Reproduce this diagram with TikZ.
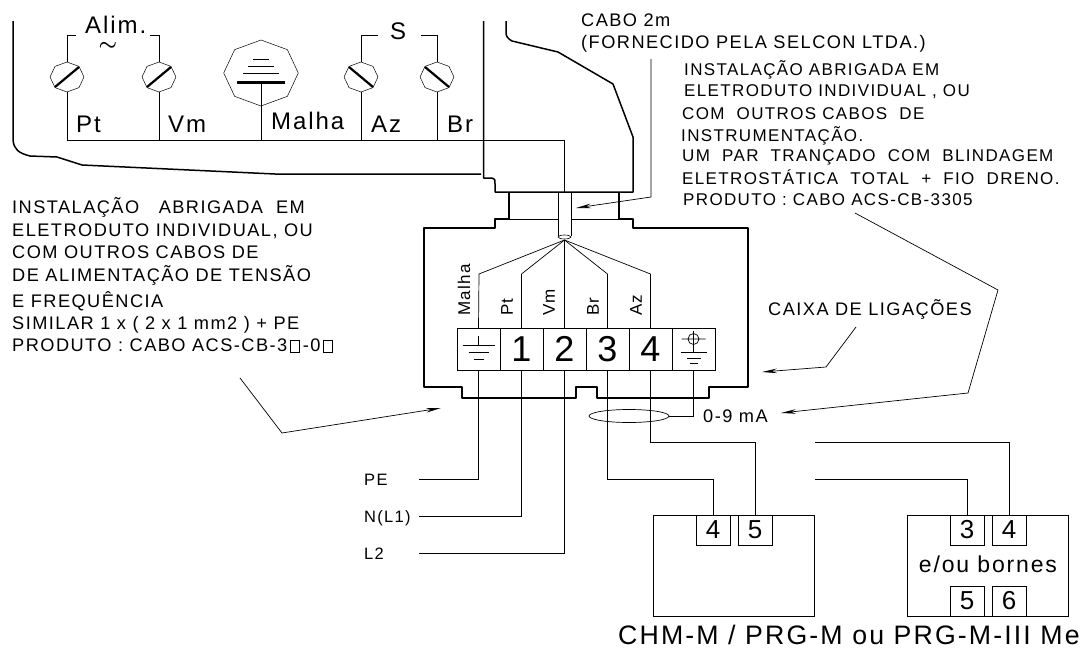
\documentclass[tikz,border=0pt]{standalone}
\usepackage{fontspec}
\setmainfont[LetterSpace=8]{Liberation Sans}
\usetikzlibrary{arrows.meta,shapes.geometric,positioning}
\newcommand{\missbox}{{\setlength{\fboxsep}{0pt}\setlength{\fboxrule}{.7pt}\fbox{\rule{0pt}{11pt}\hspace{8pt}}}}
\tikzset{
  body/.style={line width=1.5pt, line join=round},
  wire/.style={line width=.7pt},
  pointer/.style={line width=.7pt, -{Stealth[length=15pt,width=4.5pt]}},
  txt/.style={anchor=west, inner sep=0pt, text height=13pt, text depth=0pt, font=\fontsize{18.2}{18}\selectfont},
  rtxt/.style={anchor=west, inner sep=0pt, text height=12pt, text depth=0pt, font=\fontsize{17}{17}\selectfont},
  small/.style={anchor=west, inner sep=0pt, text height=12pt, text depth=0pt, font=\fontsize{16.5}{16.5}\selectfont},
  big/.style={anchor=west, inner sep=0pt, text height=17pt, text depth=0pt, font=\fontsize{24}{24}\selectfont},
  side/.style={rotate=90, anchor=west, inner sep=0pt, font=\fontsize{17}{17}\selectfont},
  screw/.style={draw, regular polygon, regular polygon sides=8, shape border rotate=22.5, inner sep=0pt, minimum size=30pt, xscale=1.13, line width=.5pt},
  slot/.style={line width=2.2pt},
  cell/.style={draw, minimum width=43pt, minimum height=42pt, inner sep=0pt, outer sep=0pt, line width=.6pt, font=\fontsize{36}{36}\selectfont},
  pin/.style={draw, minimum width=34pt, minimum height=30pt, inner sep=0pt, outer sep=0pt, line width=.8pt, font=\fontsize{26}{26}\selectfont},
  unit/.style={draw, minimum width=161pt, minimum height=101pt, inner sep=0pt, outer sep=0pt, line width=.8pt}
}
\begin{document}
\begin{tikzpicture}[x=1pt, y=-1pt, node distance=43pt]
  \useasboundingbox (0,0) rectangle (1082,648);

  \draw[body] (13,21) -- (13,140) .. controls (14,149) and (18,153) .. (30,156) -- (57,157) -- (82,165) -- (275,174) -- (481,174);
  \draw[body] (483.5,21) -- (483.5,178) -- (492,178) .. controls (495,179) .. (495,184) -- (495,192) -- (633,192) -- (633,137) -- (613,84) -- (558,52) -- (512,41) .. controls (508,39) and (506,36) .. (506,33) -- (506,21);
  \draw[body] (509,192) -- (509,219) -- (495,219) -- (495,228) -- (424,228) -- (424,387) -- (462,387) -- (462,398) -- (576,398) -- (576,387) -- (597,387) -- (597,398) -- (709,398) -- (709,387) -- (748,387) -- (748,228) -- (633,228) -- (633,219) -- (619,219) -- (619,192);
  \draw[wire] (509,219) -- (558,219) (571,219) -- (619,219);
  \draw[wire] (558,192) -- (558,236) (571,192) -- (571,236);
  \node[draw, ellipse, inner sep=0pt, minimum width=13pt, minimum height=4pt, line width=.6pt] (gland) at (564.5,237) {};
  \coordinate (fan) at (564.5,240);

  \node[screw] (sPt) at (67,77) {};
  \node[screw] (sVm) at (159,77) {};
  \node[screw] (sAz) at (361,77) {};
  \node[screw] (sBr) at (437,77) {};
  \node[screw, minimum size=66pt] (sMalha) at (261,73) {};
  \draw[slot] ([shift={(-12,10)}]sPt.center) -- ([shift={(12,-10)}]sPt.center);
  \draw[slot] ([shift={(-12,10)}]sVm.center) -- ([shift={(12,-10)}]sVm.center);
  \draw[slot] ([shift={(-12,-10)}]sAz.center) -- ([shift={(12,10)}]sAz.center);
  \draw[slot] ([shift={(-12,-10)}]sBr.center) -- ([shift={(12,10)}]sBr.center);
  \draw[wire] (253,59) -- (269,59) (248,66) -- (274,66) (243,73) -- (279,73);
  \draw[slot] (237,82.5) -- (285,82.5);

  \coordinate (alimL) at (76,35);
  \coordinate (alimR) at (150,35);
  \coordinate (sL) at (378,35);
  \coordinate (sR) at (421,35);
  \coordinate (bus) at (67,140);
  \draw[wire] (alimL) -| (sPt.north);
  \draw[wire] (alimR) -| (sVm.north);
  \draw[wire] (sL) -| (sAz.north);
  \draw[wire] (sR) -| (sBr.north);
  \draw[wire] (sPt.south) -- (bus);
  \draw[wire] (sVm.south) -- (159,140);
  \draw[wire] (261,82) -- (261,140);
  \draw[wire] (sAz.south) -- (361,140);
  \draw[wire] (sBr.south) -- (437,140);
  \draw[wire] (bus) -- (564.5,140) -- (564.5,192);

  \node[big] (alim) at (85,25) {Alim.};
  \node[anchor=center, inner sep=0pt, font=\boldmath\fontsize{22}{22}\selectfont] (tilde) at (108,46) {$\sim$};
  \node[big] (sig) at (390,31) {S};
  \node[big] (lPt) at (76,124) {Pt};
  \node[big] (lVm) at (168,124) {Vm};
  \node[big] (lMalha) at (271,121) {Malha};
  \node[big] (lAz) at (371,124) {Az};
  \node[big] (lBr) at (447,124) {Br};

  \node[cell] (t0) at (478.5,349) {};
  \node[cell] (t1) [right of = t0] {1};
  \node[cell] (t2) [right of = t1] {2};
  \node[cell] (t3) [right of = t2] {3};
  \node[cell] (t4) [right of = t3] {4};
  \node[cell] (t5) [right of = t4] {};

  \draw[wire] (t0.center) ++(0,-13) -- ++(0,9) ++(-16,0) -- ++(32,0) ++(-26,7) -- ++(20,0) ++(-15,7) -- ++(10,0);
  \draw[wire] (t5.center) ++(0,-18) -- ++(0,21) ++(-13,0) -- ++(26,0) ++(-20,6) -- ++(14,0) ++(-11,5) -- ++(8,0);
  \draw[wire] ([yshift=10pt]t5.center) circle (5.5pt) ++(-12,0) -- ++(24,0);

  \coordinate (kMalha) at (479,274);
  \coordinate (kPt) at (521.5,274);
  \coordinate (kBr) at (607.5,274);
  \coordinate (kAz) at (650.5,274);
  \draw[wire] (fan) -- (kMalha) -- (t0.north);
  \draw[wire] (fan) -- (kPt) -- (t1.north);
  \draw[wire] (fan) -- (t2.north);
  \draw[wire] (fan) -- (kBr) -- (t3.north);
  \draw[wire] (fan) -- (kAz) -- (t4.north);

  \node[side] (vMalha) at (464,316) {Malha};
  \node[side] (vPt) at (507,316) {Pt};
  \node[side] (vVm) at (549,316) {Vm};
  \node[side] (vBr) at (593,316) {Br};
  \node[side] (vAz) at (636,316) {Az};

  \node[draw, ellipse, inner sep=0pt, minimum width=80pt, minimum height=13pt, line width=.7pt] (loop) at (629,416) {};
  \draw[wire] (loop.east) -| (t5.south);
  \node[txt] (mA) at (703,416) {0-9 mA};

  \node[small] (lPE) at (364,479) {PE};
  \node[small] (lN) at (364,516) {N(L1)};
  \node[small] (lL) at (364,553) {L2};
  \coordinate (ePE) at (419,479);
  \coordinate (eN) at (419,516);
  \coordinate (eL) at (419,553);
  \draw[wire] (t0.south) |- (ePE);
  \draw[wire] (t1.south) |- (eN);
  \draw[wire] (t2.south) |- (eL);

  \node[unit] (chm) at (733.5,565.5) {};
  \node[unit] (prg) at (988,565.5) {};
  \node[pin] (c4) at (713,530) {4};
  \node[pin] (c5) at (755,530) {5};
  \node[pin] (p3) at (967,530) {3};
  \node[pin] (p4) at (1009,530) {4};
  \node[pin] (p5) at (967,601) {5};
  \node[pin] (p6) at (1009,601) {6};
  \node[anchor=center, inner sep=0pt, font=\fontsize{23}{23}\selectfont] (bornes) at (988,564) {e/ou bornes};
  \node[anchor=west, inner sep=0pt, font=\fontsize{26.7}{27}\selectfont] (cap) at (618,635) {CHM-M / PRG-M ou PRG-M-III Me};

  \coordinate (stubA) at (815,442);
  \coordinate (stubB) at (815,479);
  \draw[wire] (t4.south) -- ++(0,72) -| (c5.north);
  \draw[wire] (t3.south) -- ++(0,109) -| (c4.north);
  \draw[wire] (stubA) -| (p4.north);
  \draw[wire] (stubB) -| (p3.north);

  \node[txt] at (581,20) {CABO 2m};
  \node[txt] at (581,42) {(FORNECIDO PELA SELCON LTDA.)};
  \node[rtxt] at (684,69) {INSTALAÇÃO ABRIGADA EM};
  \node[rtxt] at (684,90) {ELETRODUTO INDIVIDUAL , OU};
  \node[rtxt] at (682,113) {COM\ \ OUTROS CABOS\ \ DE};
  \node[rtxt] at (681,135) {INSTRUMENTAÇÃO.};
  \node[rtxt] at (682,155) {UM\ \ PAR\ \ TRANÇADO\ \ COM\ \ BLINDAGEM};
  \node[rtxt] at (682,178) {ELETROSTÁTICA\ \ TOTAL\ \ +\ \ FIO\ \ DRENO.};
  \node[rtxt] at (683,199) {PRODUTO : CABO ACS-CB-3305};

  \node[txt] at (12,207) {INSTALAÇÃO\ \ \ ABRIGADA\ \ EM};
  \node[txt] at (12,230) {ELETRODUTO INDIVIDUAL, OU};
  \node[txt] at (12,252) {COM OUTROS CABOS DE};
  \node[txt] at (12,275) {DE ALIMENTAÇÃO DE TENSÃO};
  \node[txt] at (12,301) {E FREQUÊNCIA};
  \node[txt] at (12,323) {SIMILAR 1 x ( 2 x 1 mm2 ) + PE};
  \node[txt] at (12,345) {PRODUTO : CABO ACS-CB-3\,\missbox\,-0\,\missbox};
  \node[txt] at (768,309) {CAIXA DE LIGAÇÕES};

  \coordinate (cableFrom) at (651,59);
  \coordinate (cableBend) at (651,197);
  \coordinate (cableTip) at (576,208);
  \draw[pointer] (cableFrom) -- (cableBend) -- (cableTip);
  \coordinate (mainsFrom) at (240,378);
  \coordinate (mainsBend) at (282,433);
  \coordinate (mainsTip) at (441,408);
  \draw[pointer] (mainsFrom) -- (mainsBend) -- (mainsTip);
  \coordinate (boxFrom) at (856,327);
  \coordinate (boxBend) at (826,367);
  \coordinate (boxTip) at (762,372);
  \draw[pointer] (boxFrom) -- (boxBend) -- (boxTip);
  \coordinate (sigFrom) at (855,213);
  \coordinate (sigBend) at (998,290);
  \coordinate (sigKnee) at (968,393);
  \coordinate (sigTip) at (781,413);
  \draw[pointer] (sigFrom) -- (sigBend) -- (sigKnee) -- (sigTip);
\end{tikzpicture}
\end{document}
